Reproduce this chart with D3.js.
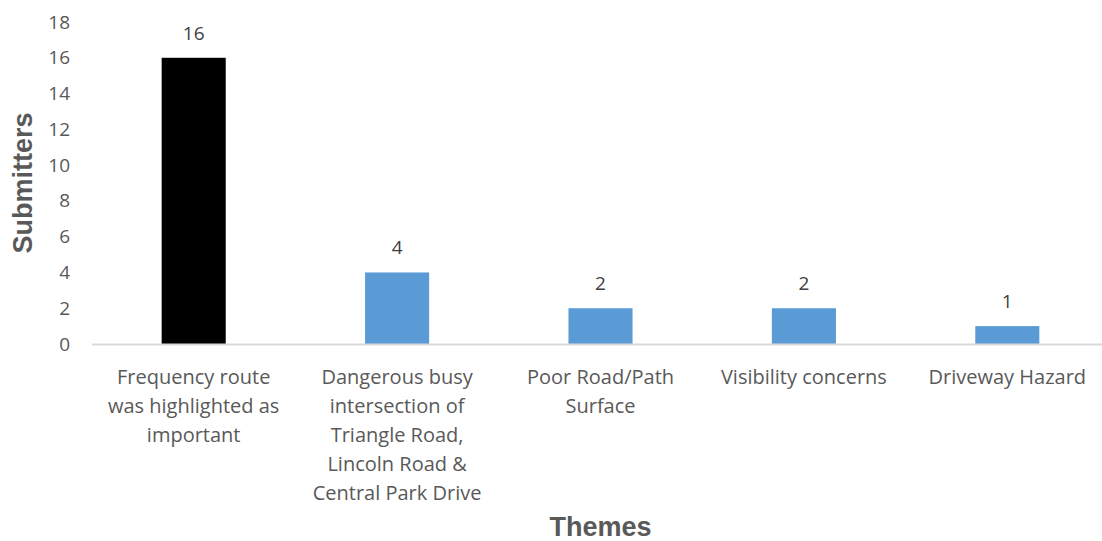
<!DOCTYPE html>
<html>
<head>
<meta charset="utf-8">
<script src="https://cdn.jsdelivr.net/npm/d3@7"></script>
<style>
  html, body { margin: 0; padding: 0; background: #fff; }
  svg { display: block; }
</style>
</head>
<body>
<svg id="chart" width="1102" height="541"></svg>
<script>
// Themes raised by submitters
const categories = [
  ["Frequency route", "was highlighted as", "important"],
  ["Dangerous busy", "intersection of", "Triangle Road,", "Lincoln Road &", "Central Park Drive"],
  ["Poor Road/Path", "Surface"],
  ["Visibility concerns"],
  ["Driveway Hazard"]
];
const values = [16, 4, 2, 2, 1];
const barColors = ["#000000", "#5B9BD5", "#5B9BD5", "#5B9BD5", "#5B9BD5"];
const yTicks = [0, 2, 4, 6, 8, 10, 12, 14, 16, 18];
const yTitle = "Submitters";
const xTitle = "Themes";

const svg = d3.select("#chart");
const font = "'Open Sans', 'Noto Sans', sans-serif";
const textColor = "#595959";

const plot = { left: 92, right: 1109, top: 22, bottom: 344 };

const x = d3.scaleBand()
  .domain(d3.range(values.length))
  .range([plot.left, plot.right])
  .paddingInner(0.685)
  .paddingOuter(0.3425);

const y = d3.scaleLinear().domain([0, 18]).range([plot.bottom, plot.top]);

// y axis tick labels
const yAxis = svg.append("g")
  .attr("transform", `translate(${plot.left},0)`)
  .call(d3.axisLeft(y).tickValues(yTicks).tickSize(0).tickPadding(22));
yAxis.select(".domain").remove();
yAxis.selectAll("text")
  .attr("font-family", font)
  .attr("font-size", 19)
  .attr("fill", textColor);

// bars
svg.append("g").selectAll("rect")
  .data(values)
  .join("rect")
  .attr("x", (d, i) => x(i))
  .attr("y", d => y(d))
  .attr("width", x.bandwidth())
  .attr("height", d => y(0) - y(d))
  .attr("fill", (d, i) => barColors[i]);

// baseline
svg.append("line")
  .attr("x1", plot.left).attr("x2", plot.right)
  .attr("y1", y(0) + 0.5).attr("y2", y(0) + 0.5)
  .attr("stroke", "#D9D9D9")
  .attr("stroke-width", 2);

// value labels
svg.append("g").selectAll("text")
  .data(values)
  .join("text")
  .attr("x", (d, i) => x(i) + x.bandwidth() / 2)
  .attr("y", d => y(d) - 18)
  .attr("text-anchor", "middle")
  .attr("font-family", font)
  .attr("font-size", 19)
  .attr("fill", "#404040")
  .text(d => d);

// category labels
const catG = svg.append("g");
categories.forEach((lines, i) => {
  const t = catG.append("text")
    .attr("text-anchor", "middle")
    .attr("font-family", font)
    .attr("font-size", 20)
    .attr("fill", textColor);
  lines.forEach((ln, j) => {
    t.append("tspan")
      .attr("x", x(i) + x.bandwidth() / 2)
      .attr("y", 384 + j * 29)
      .text(ln);
  });
});

// axis titles
svg.append("text")
  .attr("transform", `translate(32,${(plot.top + plot.bottom) / 2}) rotate(-90)`)
  .attr("text-anchor", "middle")
  .attr("font-family", "'Liberation Sans', Arial, sans-serif")
  .attr("font-weight", "bold")
  .attr("font-size", 27)
  .attr("fill", textColor)
  .text(yTitle);

svg.append("text")
  .attr("x", (plot.left + plot.right) / 2)
  .attr("y", 536)
  .attr("text-anchor", "middle")
  .attr("font-family", "'Liberation Sans', Arial, sans-serif")
  .attr("font-weight", "bold")
  .attr("font-size", 27)
  .attr("fill", textColor)
  .text(xTitle);
</script>
</body>
</html>
